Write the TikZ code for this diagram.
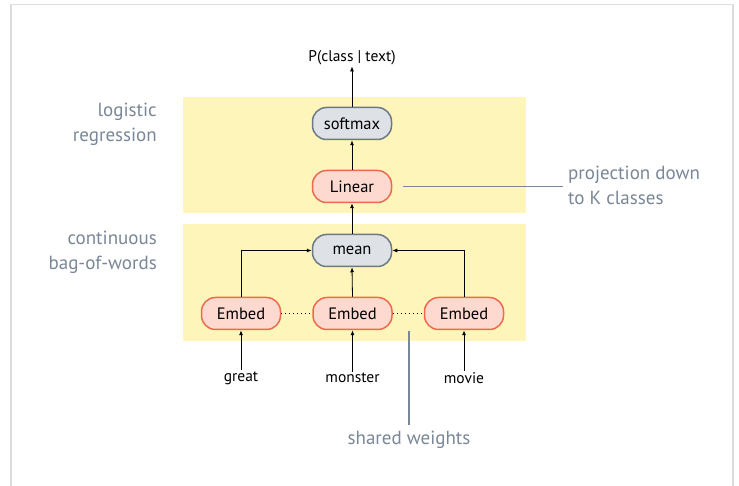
\documentclass[tikz,border=0pt]{standalone}
\usepackage{fontspec}
\setmainfont{PT Sans}
\usetikzlibrary{arrows.meta}
\definecolor{ylw}{HTML}{FDF5BA}
\definecolor{emfill}{HTML}{FDD9CF}
\definecolor{emdraw}{HTML}{EF6A4C}
\definecolor{gyfill}{HTML}{DEE2E7}
\definecolor{gydraw}{HTML}{6B7886}
\definecolor{note}{HTML}{7A8798}
\definecolor{frame}{HTML}{DDDDDD}
\begin{document}
\begin{tikzpicture}[x=1pt,y=-1pt,
  op/.style={rounded corners=14pt, line width=1.5pt, minimum width=79pt, minimum height=32pt, inner sep=0pt, font=\fontsize{16.5}{18}\selectfont},
  embox/.style={op, fill=emfill, draw=emdraw},
  gybox/.style={op, fill=gyfill, draw=gydraw},
  word/.style={font=\fontsize{15.5}{17}\selectfont, inner sep=1pt},
  notetxt/.style={font=\fontsize{19}{25}\selectfont, text=note, inner sep=0pt},
  arr/.style={-{Latex[length=5pt,width=4pt]}, line width=0.8pt},
  dots/.style={dash pattern=on 1pt off 3pt, line width=0.9pt},
  noteline/.style={draw=note, line width=1.8pt}]
\useasboundingbox (0,0) rectangle (739,486);
\fill[white] (0,0) rectangle (739,486);
\draw[frame, line width=1.5pt] (11,486) -- (11,4.5) -- (733,4.5) -- (733,486);
% yellow panels
\fill[ylw] (183,97) rectangle (526,213);
\fill[ylw] (183,224) rectangle (526,341);
% nodes
\node[word] (out) at (352,58) {P(class | text)};
\node[gybox] (softmax) at (352,123.5) {softmax};
\node[embox] (linear) at (352,186.5) {Linear};
\node[gybox] (mean) at (352,250.5) {mean};
\node[embox] (e1) at (241,313.5) {Embed};
\node[embox] (e2) at (352.5,313.5) {Embed};
\node[embox] (e3) at (464,313.5) {Embed};
\node[word] (w1) at (241,378) {great};
\node[word] (w2) at (352.5,378) {monster};
\node[word] (w3) at (464,378) {movie};
% arrows
\draw[arr] (softmax.north) -- (out.south);
\draw[arr] (linear.north) -- (softmax.south);
\draw[arr] (mean.north) -- (linear.south);
\draw[arr] (e2.north) -- (mean.south);
\draw[arr] (e1.north) |- (mean.west);
\draw[arr] (e3.north) |- (mean.east);
\draw[arr] (w1.north) -- (e1.south);
\draw[arr] (w2.north) -- (e2.south);
\draw[arr] (w3.north) -- (e3.south);
\draw[dots] (e1.east) -- (e2.west);
\draw[dots] (e2.east) -- (e3.west);
% notes
\node[notetxt, align=right, anchor=east] (lr) at (157,124.5) {logistic\\regression};
\node[notetxt, align=right, anchor=east] (cbow) at (157,252) {continuous\\bag-of-words};
\node[notetxt, align=left, anchor=west] (proj) at (568,185.5) {projection down\\to K classes};
\coordinate (projend) at (563,186.5);
\coordinate (projstart) at (403,186.5);
\draw[noteline] (projstart) -- (projend);
\node[notetxt] (shared) at (409,440) {shared weights};
\coordinate (sharedtop) at (409,331);
\coordinate (sharedbot) at (409,425);
\draw[noteline] (sharedtop) -- (sharedbot);
\end{tikzpicture}
\end{document}
